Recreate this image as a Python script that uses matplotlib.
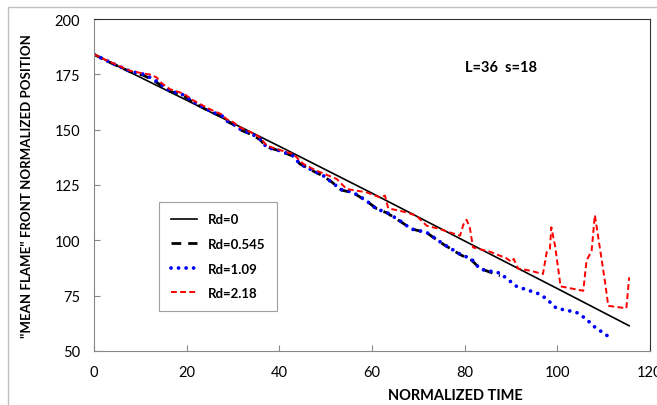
import numpy as np
import matplotlib
matplotlib.use('Agg')
import matplotlib.pyplot as plt
from matplotlib.patches import Rectangle

plt.rcParams['font.family'] = ['Lato', 'DejaVu Sans']

# Rd=0 : black solid
x_rd0 = [0, 20, 40, 60, 80, 100, 115.5]
y_rd0 = [184, 163.3, 142.5, 121.3, 99.7, 78.2, 61.4]

# Rd=0.545 : black dashed
x_rd0545 = [0, 3.5, 7.8, 10.6, 12.8, 14.6, 16.4, 19.3, 21.4, 24.3, 25.7, 27.6,
            28.6, 30.1, 31.5, 34.4, 35.8, 37.3, 40.1, 43, 44.4, 47.3, 49.5, 51.3,
            53.4, 55.9, 58.8, 61, 63.2, 66, 68.5, 71.8, 75.4, 79, 81.5, 83.3, 87.6]
y_rd0545 = [184, 180.3, 176.2, 174.6, 172.4, 169.8, 167.3, 165.4, 162.3, 159.0,
            157.6, 156.0, 153.8, 152.3, 150.0, 147.4, 145.5, 142.2, 140.4, 138.0,
            134.6, 131.3, 129.0, 126.4, 122.7, 121.5, 117.8, 114.3, 112.4, 108.7,
            105.2, 103.4, 98.2, 93.6, 91.0, 87.3, 84.0]

# Rd=1.09 : blue dotted
x_rd109 = [0, 3.5, 7.8, 10.6, 12.8, 14.6, 16.4, 19.3, 21.4, 24.3, 25.7, 27.6,
           28.6, 30.1, 31.5, 34.4, 35.8, 37.3, 40.1, 43, 44.4, 47.3, 49.5, 51.3,
           53.4, 55.9, 58.8, 61, 63.2, 66, 68.5, 71.8, 75.4, 79, 81.5, 83.3, 87.6,
           91.2, 96.2, 97.7, 99.8, 104.1, 106.3, 107.7, 111]
y_rd109 = [184, 180.4, 176.4, 175.1, 172.9, 170.2, 167.6, 165.7, 162.6, 159.3,
           157.8, 156.3, 154.0, 152.6, 150.3, 147.6, 145.8, 142.0, 140.5, 138.2,
           134.5, 131.5, 129.2, 126.2, 122.9, 121.7, 117.9, 114.1, 112.6, 108.9,
           105.1, 103.6, 98.3, 93.8, 91.5, 87, 85.2, 79.2, 75.7, 73.5, 69.3, 67.5,
           64.4, 61.4, 56.6]

# Rd=2.18 : red dashed
x_rd218 = [0, 3.5, 7.8, 10.6, 12.1, 13.5, 14.6, 16.4, 19.3, 21.4, 24.3, 25.7,
           27.6, 28.6, 30.1, 31.5, 34.4, 35.8, 37.3, 40.1, 43, 45.2, 48, 52.4, 54.5,
           58.8, 61.7, 62.8, 63.5, 67.5, 69.6, 71.8, 74.6, 79, 79.7, 80.4, 81.1,
           81.8, 85.4, 89, 90.1, 90.6, 91.5, 94.1, 96.9, 97.7, 98.4, 98.7, 99.5,
           100.2, 100.7, 105.6, 106.3, 107.4, 108.1, 110.2, 111, 114.9, 115.5]
y_rd218 = [184, 180.6, 176.6, 175.4, 174.9, 173.6, 171.0, 168.3, 166.3, 163.3,
           160.0, 158.6, 156.9, 154.8, 153.3, 151.0, 148.3, 146.5, 142.8, 140.8,
           139, 134.5, 131.5, 127.7, 123.2, 121.7, 119.4, 120.2, 114.5, 112.6,
           111.1, 106.6, 105.1, 102.1, 107, 109.3, 105.9, 96.8, 94.9, 91.9, 90.3,
           91.6, 87.3, 86.3, 84.8, 94.6, 96.1, 105.9, 97.6, 87, 79.2, 77.2, 90.8,
           95.3, 111.4, 82.5, 70.4, 69.3, 83.3]

xticks = [0, 20, 40, 60, 80, 100, 120]
yticks = [50, 75, 100, 125, 150, 175, 200]

fig = plt.figure(figsize=(6.57, 4.06), dpi=100)
# chart area border (Excel style)
fig.patches.append(Rectangle((7.5 / 657, -0.2), 1.2, 0.2 + (406 - 8) / 406,
                             transform=fig.transFigure, fill=False,
                             edgecolor='#c0c0c0', linewidth=1))
ax = fig.add_axes([94 / 657, 54 / 406, 556 / 657, 332 / 406])

ax.plot(x_rd0, y_rd0, color='black', lw=1.2, label='Rd=0')
ax.plot(x_rd0545, y_rd0545, color='black', lw=2.0, linestyle=(0, (3.5, 2.5)),
        label='Rd=0.545')
ax.plot(x_rd109, y_rd109, color='#0000ff', lw=2.7, linestyle=(0, (0.01, 2.0)),
        dash_capstyle='round', label='Rd=1.09')
ax.plot(x_rd218, y_rd218, color='#ff0000', lw=1.4, linestyle=(0, (3.0, 1.7)),
        label='Rd=2.18')

ax.set_xlim(0, 120)
ax.set_ylim(50, 200)
ax.set_xticks(xticks)
ax.set_yticks(yticks)
ax.tick_params(direction='in', length=4, width=0.8, color='#888888',
               labelsize=10.5, pad=10)
for side in ['left', 'bottom']:
    ax.spines[side].set_color('#888888')
for side in ['top', 'right']:
    ax.spines[side].set_color('#333333')

ax.set_xlabel('NORMALIZED TIME', fontsize=10.5, fontweight='bold')
ax.xaxis.set_label_coords(0.65, -0.11)
ax.set_ylabel('"MEAN FLAME" FRONT NORMALIZED POSITION', fontsize=9.5,
              fontweight='bold')
ax.yaxis.set_label_coords(-0.11, 0.5)

ax.text(80, 178.3, 'L=36  s=18', fontsize=10.5, fontweight='bold', va='center')

leg = ax.legend(loc='upper left', bbox_to_anchor=(0.105, 0.47), frameon=True,
                fancybox=False, edgecolor='#888888', handlelength=2.0,
                labelspacing=0.95, borderpad=0.9, handletextpad=0.8,
                prop={'weight': 'bold', 'size': 9.5})
leg.get_frame().set_linewidth(0.8)

fig.savefig('out.png', dpi=100)
